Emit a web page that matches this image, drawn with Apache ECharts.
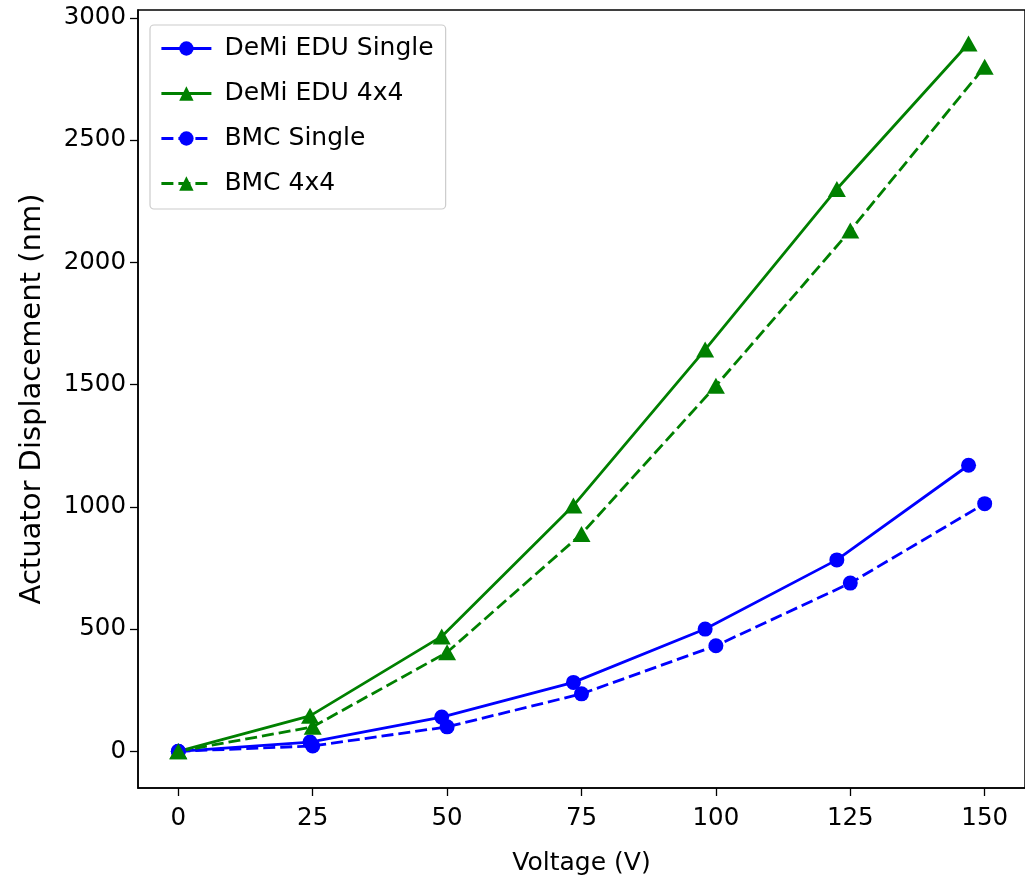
<!DOCTYPE html>
<html>
<head>
<meta charset="utf-8">
<script src="https://cdn.jsdelivr.net/npm/echarts@6/dist/echarts.min.js"></script>
<style>html,body{margin:0;padding:0;background:#fff;}#c{width:1025px;height:881px;}</style>
</head>
<body>
<div id="c"></div>
<script>
// Data
const demiVoltage = [0, 24.5, 49, 73.5, 98, 122.5, 147];
const bmcVoltage = [0, 25, 50, 75, 100, 125, 150];
const demiSingle = [0, 38, 140, 282, 500, 783, 1170];
const demi4x4 = [0, 145, 470, 1005, 1643, 2300, 2895];
const bmcSingle = [0, 22, 100, 235, 432, 688, 1013];
const bmc4x4 = [0, 100, 405, 889, 1495, 2130, 2800];
const xTicks = [0, 25, 50, 75, 100, 125, 150];
const yTicks = [0, 500, 1000, 1500, 2000, 2500, 3000];
const seriesNames = ['DeMi EDU Single', 'DeMi EDU 4x4', 'BMC Single', 'BMC 4x4'];

const pairs = (xs, ys) => xs.map((x, i) => [x, ys[i]]);
const FONT = 'DejaVu Sans';
const FS = 24.5;
const BLUE = '#0000ff', GREEN = '#008000';

function mk(name, xs, ys, color, symbol, size, dashed) {
  return {
    name: name, type: 'line', data: pairs(xs, ys),
    symbol: symbol, symbolSize: size, showSymbol: true,
    itemStyle: { color: color },
    lineStyle: { color: color, width: 2.8, type: dashed ? [12, 5] : 'solid' },
    emphasis: { disabled: true }
  };
}

const chart = echarts.init(document.getElementById('c'), null, { renderer: 'canvas' });
chart.setOption({
  animation: false,
  backgroundColor: '#fff',
  grid: { left: 138, top: 10, bottom: 88, right: -6, show: true, borderColor: '#000', borderWidth: 1.5, containLabel: false },
  legend: {
    left: 150, top: 25, orient: 'vertical',
    data: seriesNames,
    itemWidth: 50, itemHeight: 18, itemGap: 18,
    padding: [10, 12, 12, 10],
    borderColor: '#cccccc', borderWidth: 1.2, borderRadius: 4,
    backgroundColor: 'rgba(255,255,255,0.8)',
    lineStyle: { width: 2.8 },
    textStyle: { fontFamily: FONT, fontSize: 25, color: '#000', lineHeight: 27, padding: [0, 0, 0, 8] }
  },
  xAxis: {
    type: 'value', min: -7.5, max: 157.5,
    name: 'Voltage (V)', nameLocation: 'middle', nameGap: 63,
    nameTextStyle: { fontFamily: FONT, fontSize: 25, color: '#000' },
    axisLine: { show: true, onZero: false, lineStyle: { color: '#000', width: 1.5 } },
    axisTick: { show: true, length: 8, customValues: xTicks, lineStyle: { color: '#000', width: 1.3 } },
    axisLabel: { customValues: xTicks, margin: 18, fontFamily: FONT, fontSize: FS, color: '#000', formatter: v => String(v) },
    splitLine: { show: false }
  },
  yAxis: {
    type: 'value', min: -150, max: 3032,
    name: 'Actuator Displacement (nm)', nameLocation: 'middle', nameGap: 91,
    nameTextStyle: { fontFamily: FONT, fontSize: 29, color: '#000' },
    axisLine: { show: true, onZero: false, lineStyle: { color: '#000', width: 1.5 } },
    axisTick: { show: true, length: 8, customValues: yTicks, lineStyle: { color: '#000', width: 1.3 } },
    axisLabel: { customValues: yTicks, margin: 12, fontFamily: FONT, fontSize: FS, color: '#000', formatter: v => String(v) },
    splitLine: { show: false }
  },
  series: [
    mk(seriesNames[0], demiVoltage, demiSingle, BLUE, 'circle', 15, false),
    mk(seriesNames[1], demiVoltage, demi4x4, GREEN, 'triangle', [18, 16], false),
    mk(seriesNames[2], bmcVoltage, bmcSingle, BLUE, 'circle', 15, true),
    mk(seriesNames[3], bmcVoltage, bmc4x4, GREEN, 'triangle', [18, 16], true)
  ]
});
</script>
</body>
</html>
